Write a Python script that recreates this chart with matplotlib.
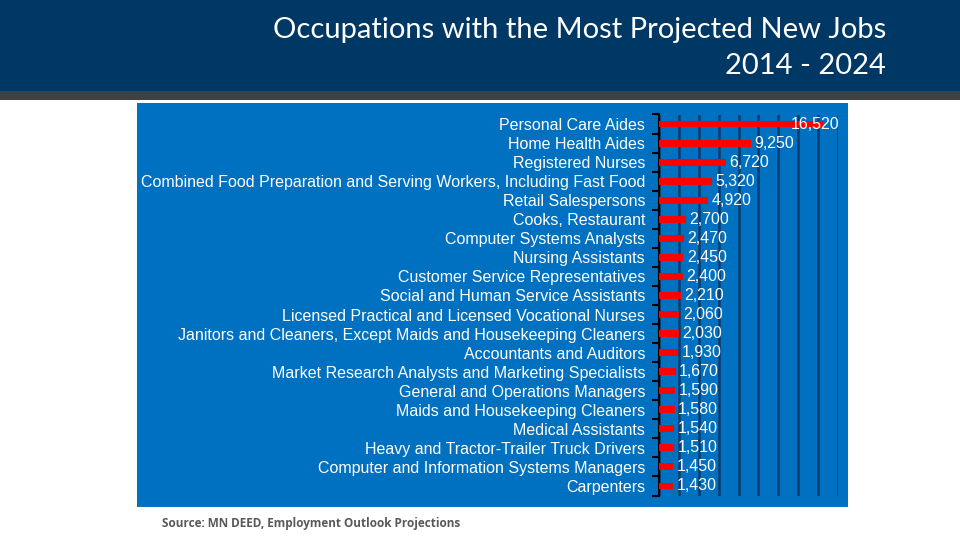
import numpy as np
import matplotlib.pyplot as plt
from matplotlib.patches import Rectangle

occupations = [
    "Personal Care Aides",
    "Home Health Aides",
    "Registered Nurses",
    "Combined Food Preparation and Serving Workers, Including Fast Food",
    "Retail Salespersons",
    "Cooks, Restaurant",
    "Computer Systems Analysts",
    "Nursing Assistants",
    "Customer Service Representatives",
    "Social and Human Service Assistants",
    "Licensed Practical and Licensed Vocational Nurses",
    "Janitors and Cleaners, Except Maids and Housekeeping Cleaners",
    "Accountants and Auditors",
    "Market Research Analysts and Marketing Specialists",
    "General and Operations Managers",
    "Maids and Housekeeping Cleaners",
    "Medical Assistants",
    "Heavy and Tractor-Trailer Truck Drivers",
    "Computer and Information Systems Managers",
    "Carpenters",
]
new_jobs = [16520, 9250, 6720, 5320, 4920, 2700, 2470, 2450, 2400, 2210,
            2060, 2030, 1930, 1670, 1590, 1580, 1540, 1510, 1450, 1430]

title_lines = ["Occupations with the Most Projected New Jobs", "2014 - 2024"]
source = "Source: MN DEED, Employment Outlook Projections"

W, H = 960, 540
fig = plt.figure(figsize=(9.6, 5.4), dpi=100)
fig.patch.set_facecolor("white")


def fx(px):
    return px / W


def fy(py):
    return 1 - py / H


# header band and gray strip
fig.patches.append(Rectangle((0, fy(91)), 1, 91 / H, transform=fig.transFigure,
                             facecolor="#003865", edgecolor="none", zorder=0))
fig.patches.append(Rectangle((0, fy(100)), 1, 9 / H, transform=fig.transFigure,
                             facecolor="#404040", edgecolor="none", zorder=0))
# blue chart panel
fig.patches.append(Rectangle((fx(137), fy(507)), fx(848 - 137), 404 / H,
                             transform=fig.transFigure, facecolor="#0070C0",
                             edgecolor="none", zorder=0))

for line, py in zip(title_lines, [30, 66]):
    fig.text(fx(886), fy(py), line, ha="right", va="center", color="white",
             fontsize=21, family="Lato")
fig.text(fx(162), fy(524), source, ha="left", va="center", color="#595959",
         fontsize=8.5, fontweight="bold", family="Open Sans")

ax = fig.add_axes([fx(659), fy(495.5), fx(838 - 659), 381 / H])
ax.set_zorder(2)
ax.set_facecolor("none")

xmax = 18000
y = np.arange(len(occupations))
ax.barh(y, new_jobs, height=0.36, color="#FF0000", zorder=3)
for yi, v in zip(y, new_jobs):
    # keep the label inside the plot like Excel does
    if v + 250 + 5000 > xmax:
        ax.text(xmax + 100, yi, f"{v:,}", va="center", ha="right", color="white",
                fontsize=11.5, family="Liberation Sans", zorder=4)
    else:
        ax.text(v + 350, yi, f"{v:,}", va="center", ha="left", color="white",
                fontsize=11.5, family="Liberation Sans", zorder=4)

ax.set_xlim(0, xmax)
ax.set_ylim(len(occupations) - 0.5, -0.5)
ax.set_xticks(np.arange(0, xmax + 1, 2000))
ax.xaxis.grid(True, color="#0A3A6E", linewidth=1.8, zorder=1)
ax.set_axisbelow(True)
ax.tick_params(axis="x", length=0, labelbottom=False)

ax.set_yticks(y)
ax.set_yticklabels(occupations, fontsize=11.5, color="white", family="Liberation Sans")
ax.set_yticks(np.arange(-0.5, len(occupations), 1), minor=True)
ax.tick_params(axis="y", which="major", length=0, pad=10)
ax.tick_params(axis="y", which="minor", length=5, width=1.5, color="black", direction="out")

for s in ["top", "right", "bottom"]:
    ax.spines[s].set_visible(False)
ax.spines["left"].set_color("black")
ax.spines["left"].set_linewidth(1.5)

fig.savefig("out.png", dpi=100)
